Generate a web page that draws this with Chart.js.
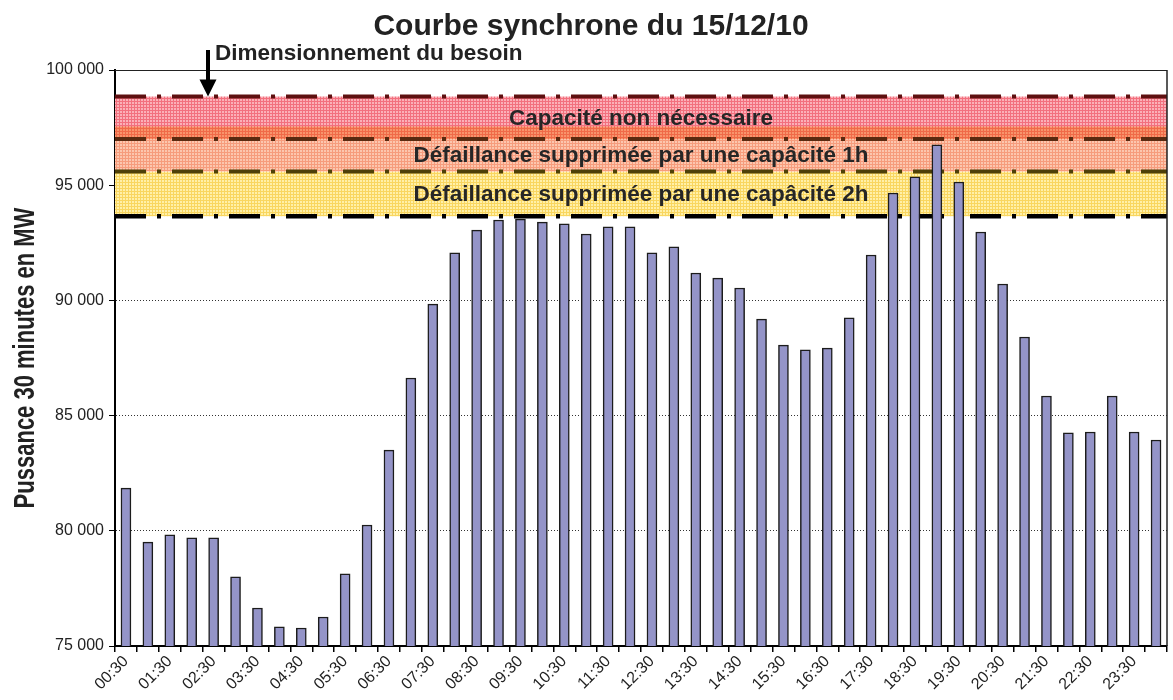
<!DOCTYPE html>
<html>
<head>
<meta charset="utf-8">
<script src="https://cdn.jsdelivr.net/npm/chart.js@4.4.1/dist/chart.umd.min.js"></script>
<style>
  html, body { margin: 0; padding: 0; background: #fff; }
  #wrap { width: 1173px; height: 700px; position: relative; }
</style>
</head>
<body>
<div id="wrap"><canvas id="chart"></canvas></div>
<script>
// ── Data ────────────────────────────────────
var TITLE = 'Courbe synchrone du 15/12/10';
var Y_TITLE = 'Pussance 30 minutes en MW';
var ANNOT = 'Dimensionnement du besoin';

var times = [
  '00:30','01:00','01:30','02:00','02:30','03:00','03:30','04:00',
  '04:30','05:00','05:30','06:00','06:30','07:00','07:30','08:00',
  '08:30','09:00','09:30','10:00','10:30','11:00','11:30','12:00',
  '12:30','13:00','13:30','14:00','14:30','15:00','15:30','16:00',
  '16:30','17:00','17:30','18:00','18:30','19:00','19:30','20:00',
  '20:30','21:00','21:30','22:00','22:30','23:00','23:30','00:00'
];

var puissance = [
  81850, 79510, 79820, 79690, 79690, 78000, 76650, 75830,
  75780, 76260, 78130, 80250, 83500, 86630, 89840, 92060,
  93050, 93490, 93530, 93400, 93320, 92880, 93190, 93190,
  92060, 92320, 91190, 90970, 90540, 89190, 88060, 87850,
  87930, 89240, 91970, 94660, 95360, 96750, 95140, 92970,
  90710, 88410, 85850, 84250, 84290, 85850, 84290, 83940
];

// band limits (MW), top to bottom
var bandLevels = [98850, 97000, 95600, 93650];
var orangeTop = 97550;
var bandNames = [
  'Capacité non nécessaire',
  'Défaillance supprimée par une capâcité 1h',
  'Défaillance supprimée par une capâcité 2h'
];
var lineColors = ['#5e1010', '#5a2a10', '#4e4008', '#000000'];

var yMin = 75000, yMax = 100000, yStep = 5000;

// ── Helpers ─────────────────────────────────
var FONT = '"Liberation Sans", Arial, sans-serif';

function fmtMW(v) {
  return String(v).replace(/\B(?=(\d{3})+(?!\d))/g, ' ');
}

function gridPattern(base, line) {
  var c = document.createElement('canvas');
  c.width = 3; c.height = 3;
  var g = c.getContext('2d');
  g.fillStyle = base; g.fillRect(0, 0, 3, 3);
  g.fillStyle = line;
  g.fillRect(0, 2, 3, 1);
  g.fillRect(2, 0, 1, 3);
  return g.createPattern(c, 'repeat');
}

function flat(v) { return [{x: 0, y: v}, {x: 1, y: v}]; }

function levelLine(v, color, width, fillTo, bg) {
  return {
    type: 'line', xAxisID: 'x2', order: 2,
    data: flat(v),
    borderColor: color, borderWidth: width,
    borderDash: [31, 11, 4, 11], borderCapStyle: 'butt',
    pointRadius: 0,
    fill: fillTo === null ? false : { target: fillTo },
    backgroundColor: bg || 'transparent'
  };
}

// ── Overlay (title, frame, labels, arrow) ───
var overlay = {
  id: 'overlay',
  afterDatasetsDraw: function(chart) {
    var ctx = chart.ctx, a = chart.chartArea, y = chart.scales.y;
    ctx.save();
    ctx.font = 'bold 22.5px ' + FONT;
    ctx.fillStyle = '#262626';
    ctx.textAlign = 'center';
    ctx.textBaseline = 'middle';
    var cx = (a.left + a.right) / 2;
    for (var i = 0; i < bandNames.length; i++) {
      var mid = (bandLevels[i] + bandLevels[i + 1]) / 2;
      ctx.fillText(bandNames[i], cx, y.getPixelForValue(mid) + 1);
    }
    ctx.restore();
  },
  afterDraw: function(chart) {
    var ctx = chart.ctx, a = chart.chartArea, y = chart.scales.y;
    ctx.save();
    // frame top + right
    ctx.strokeStyle = '#222';
    ctx.lineWidth = 1;
    ctx.beginPath();
    ctx.moveTo(a.left, Math.round(a.top) + 0.5);
    ctx.lineTo(a.right, Math.round(a.top) + 0.5);
    ctx.stroke();
    ctx.lineWidth = 1.5;
    ctx.beginPath();
    ctx.moveTo(a.right, a.top);
    ctx.lineTo(a.right, a.bottom);
    ctx.stroke();

    // title
    ctx.fillStyle = '#222';
    ctx.font = 'bold 30px ' + FONT;
    ctx.textAlign = 'center';
    ctx.textBaseline = 'alphabetic';
    ctx.fillText(TITLE, 591, 35);

    // y axis title (tall glyphs like the original)
    ctx.save();
    ctx.translate(26, (a.top + a.bottom) / 2);
    ctx.rotate(-Math.PI / 2);
    ctx.scale(1, 1.35);
    ctx.font = 'bold 22px ' + FONT;
    ctx.textAlign = 'center';
    ctx.textBaseline = 'middle';
    ctx.fillText(Y_TITLE, 0, 0);
    ctx.restore();

    // arrow to the top band line
    var ax = a.left + 93;
    var tip = y.getPixelForValue(bandLevels[0]);
    ctx.fillStyle = '#000';
    ctx.fillRect(ax - 2, 50, 4, tip - 50 - 14);
    ctx.beginPath();
    ctx.moveTo(ax - 8.5, tip - 17);
    ctx.lineTo(ax + 8.5, tip - 17);
    ctx.lineTo(ax, tip);
    ctx.closePath();
    ctx.fill();

    ctx.fillStyle = '#222';
    ctx.font = 'bold 22.5px ' + FONT;
    ctx.textAlign = 'left';
    ctx.fillText(ANNOT, ax + 7, 60);
    ctx.restore();
  }
};

// ── Chart ───────────────────────────────────
var ctx = document.getElementById('chart').getContext('2d');

var redFill    = gridPattern('#fbb0b8', '#f2707e');
var orangeFill = gridPattern('#f8946c', '#f06a48');
var salmonFill = gridPattern('#fcc6ae', '#f69c7c');
var yellowFill = gridPattern('#fff0a8', '#f9d660');

var datasets = [
  {
    type: 'bar', order: 1,
    data: puissance,
    backgroundColor: '#9494c8',
    borderColor: '#1c1c1c',
    borderWidth: 1.5,
    barThickness: 10,
    grouped: false,
    categoryPercentage: 1,
    barPercentage: 1
  },
  levelLine(orangeTop, 'transparent', 0, 3, orangeFill),           // 1 (drawn last)
  levelLine(bandLevels[0], lineColors[0], 4, 3, redFill),          // 2
  levelLine(bandLevels[1], lineColors[1], 4, 4, salmonFill),       // 3
  levelLine(bandLevels[2], lineColors[2], 4, 5, yellowFill),       // 4
  levelLine(bandLevels[3], lineColors[3], 4.5, null)               // 5
];

new Chart(ctx, {
  type: 'bar',
  data: { labels: times, datasets: datasets },
  plugins: [overlay],
  options: {
    responsive: true,
    maintainAspectRatio: false,
    animation: false,
    layout: { padding: { left: 0, top: 70, right: 6, bottom: 0 } },
    plugins: {
      legend: { display: false },
      tooltip: { enabled: false },
      filler: { drawTime: 'beforeDatasetsDraw' }
    },
    scales: {
      x: {
        type: 'category',
        offset: true,
        grid: {
          offset: true, drawOnChartArea: false,
          tickLength: 6, tickColor: '#000', lineWidth: 1.5
        },
        border: { color: '#000', width: 2 },
        ticks: {
          autoSkip: false, minRotation: 45, maxRotation: 45,
          padding: 0,
          color: '#222',
          font: { size: 16, family: FONT },
          callback: function(v, i) { return i % 2 === 0 ? times[i] : ''; }
        },
        afterFit: function(s) { s.height = 54; }
      },
      x2: {
        type: 'linear', min: 0, max: 1, offset: false, display: false
      },
      y: {
        min: yMin, max: yMax,
        grid: {
          color: function(c) {
            var v = c.tick && c.tick.value;
            return (v === yMin || v === yMax) ? 'rgba(0,0,0,0)' : '#333';
          },
          tickColor: '#000', tickLength: 6, lineWidth: 1
        },
        border: { color: '#000', width: 2, dash: [1, 2] },
        ticks: {
          stepSize: yStep, padding: 5,
          color: '#222',
          font: { size: 16, family: FONT },
          callback: function(v) { return fmtMW(v); }
        },
        afterFit: function(s) { s.width = 115; }
      }
    }
  }
});
</script>
</body>
</html>
